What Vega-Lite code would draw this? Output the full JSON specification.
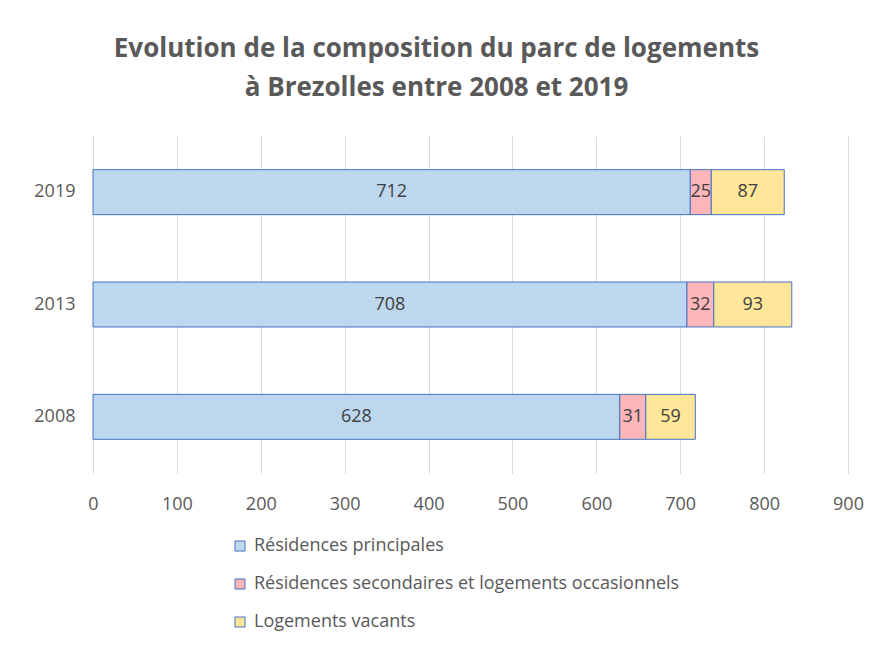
{
  "$schema": "https://vega.github.io/schema/vega-lite/v6.json",
  "width": 755,
  "height": 337,
  "autosize": {"type": "none"},
  "padding": {"left": 93, "top": 136, "right": 24, "bottom": 177},
  "background": "white",
  "title": {
    "text": ["Evolution de la composition du parc de logements", "à Brezolles entre 2008 et 2019"],
    "anchor": "middle",
    "frame": "group",
    "dx": -34,
    "offset": 35,
    "lineHeight": 39,
    "font": "Open Sans",
    "fontSize": 26,
    "fontWeight": "bold",
    "color": "#595959"
  },
  "data": {
    "values": [
      {"annee": "2019", "categorie": "Résidences principales", "ordre": 1, "valeur": 712},
      {"annee": "2019", "categorie": "Résidences secondaires et logements occasionnels", "ordre": 2, "valeur": 25},
      {"annee": "2019", "categorie": "Logements vacants", "ordre": 3, "valeur": 87},
      {"annee": "2013", "categorie": "Résidences principales", "ordre": 1, "valeur": 708},
      {"annee": "2013", "categorie": "Résidences secondaires et logements occasionnels", "ordre": 2, "valeur": 32},
      {"annee": "2013", "categorie": "Logements vacants", "ordre": 3, "valeur": 93},
      {"annee": "2008", "categorie": "Résidences principales", "ordre": 1, "valeur": 628},
      {"annee": "2008", "categorie": "Résidences secondaires et logements occasionnels", "ordre": 2, "valeur": 31},
      {"annee": "2008", "categorie": "Logements vacants", "ordre": 3, "valeur": 59}
    ]
  },
  "transform": [
    {"stack": "valeur", "groupby": ["annee"], "sort": [{"field": "ordre"}], "as": ["v0", "v1"]},
    {"calculate": "(datum.v0 + datum.v1) / 2", "as": "milieu"}
  ],
  "encoding": {
    "y": {
      "field": "annee",
      "type": "nominal",
      "sort": "descending",
      "title": null,
      "scale": {"paddingInner": 0.6, "paddingOuter": 0.3},
      "axis": {"domain": false, "ticks": false, "labelPadding": 18, "labelColor": "#595959", "labelFontSize": 18, "labelFont": "Open Sans", "grid": false}
    }
  },
  "layer": [
    {
      "mark": {"type": "bar", "stroke": "#4472C4", "strokeWidth": 1},
      "encoding": {
        "x": {
          "field": "v0",
          "type": "quantitative",
          "title": null,
          "scale": {"domain": [0, 900], "nice": false},
          "axis": {"values": [0, 100, 200, 300, 400, 500, 600, 700, 800, 900], "domain": false, "ticks": false, "grid": true, "gridColor": "#D9D9D9", "gridWidth": 1, "labelFlush": false, "labelPadding": 22, "labelColor": "#595959", "labelFontSize": 18, "labelFont": "Open Sans"}
        },
        "x2": {"field": "v1"},
        "color": {
          "field": "categorie",
          "type": "nominal",
          "scale": {
            "domain": ["Résidences principales", "Résidences secondaires et logements occasionnels", "Logements vacants"],
            "range": ["#BDD7EE", "#FFB6BA", "#FFE699"]
          },
          "legend": {
            "title": null,
            "orient": "none",
            "legendX": 138,
            "legendY": 401,
            "direction": "vertical",
            "symbolType": "square",
            "symbolSize": 100,
            "symbolStrokeColor": "#4472C4",
            "symbolStrokeWidth": 1,
            "symbolOpacity": 1,
            "labelFont": "Open Sans",
            "labelFontSize": 18,
            "labelColor": "#595959",
            "labelOffset": 5,
            "rowPadding": 20,
            "padding": 0,
            "labelLimit": 600
          }
        }
      }
    },
    {
      "mark": {"type": "text", "font": "Open Sans", "fontSize": 18, "color": "#404040", "align": "center", "baseline": "middle"},
      "encoding": {
        "x": {"field": "milieu", "type": "quantitative"},
        "text": {"field": "valeur", "type": "quantitative"}
      }
    }
  ],
  "config": {
    "view": {"stroke": null}
  }
}
